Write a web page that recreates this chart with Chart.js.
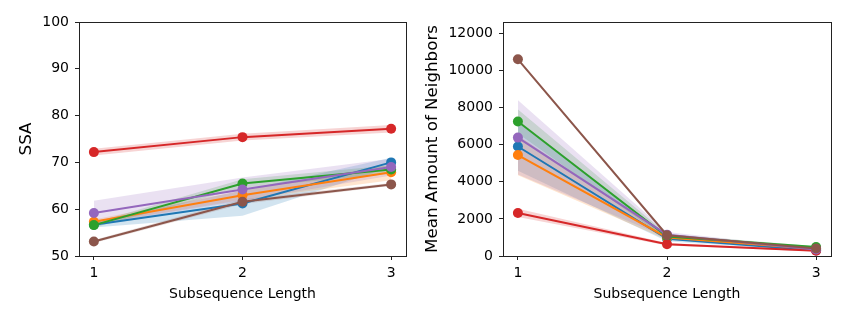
<!DOCTYPE html>
<html>
<head>
<meta charset="utf-8">
<script src="https://cdn.jsdelivr.net/npm/chart.js@4.4.0/dist/chart.umd.min.js"></script>
<style>
  body { margin: 0; background: #fff; }
  canvas { position: absolute; top: 0; }
  #ssa { left: 0; }
  #nbr { left: 420px; }
</style>
</head>
<body>
<canvas id="ssa" width="423" height="318"></canvas>
<canvas id="nbr" width="427" height="318"></canvas>
<script>
// subsequence lengths on x
const lengths = [1, 2, 3];

// series names (tab10 order)
const seriesNames = ['blue', 'orange', 'green', 'red', 'purple', 'brown'];
const seriesColors = ['#1f77b4', '#ff7f0e', '#2ca02c', '#d62728', '#9467bd', '#8c564b'];

// SSA - mean, lower and upper band
const ssaBlue = [56.7, 61.2, 70.0];
const ssaBlueLo = [56.1, 58.6, 69.0];
const ssaBlueHi = [57.3, 64.0, 71.0];
const ssaOrange = [57.3, 63.0, 67.9];
const ssaOrangeLo = [56.8, 62.0, 66.2];
const ssaOrangeHi = [57.8, 64.0, 69.5];
const ssaGreen = [56.6, 65.5, 68.5];
const ssaGreenLo = [56.1, 64.6, 67.6];
const ssaGreenHi = [57.1, 66.4, 69.4];
const ssaRed = [72.2, 75.4, 77.2];
const ssaRedLo = [71.5, 74.7, 76.4];
const ssaRedHi = [72.9, 76.1, 78.0];
const ssaPurple = [59.2, 64.2, 69.0];
const ssaPurpleLo = [56.6, 61.8, 67.2];
const ssaPurpleHi = [61.8, 66.8, 70.8];
const ssaBrown = [53.1, 61.6, 65.3];
const ssaBrownLo = [52.8, 61.1, 65.0];
const ssaBrownHi = [53.4, 62.1, 65.6];

// Mean amount of neighbors - mean, lower and upper band
const nbrBlue = [5900, 930, 300];
const nbrBlueLo = [4600, 800, 250];
const nbrBlueHi = [7200, 1060, 350];
const nbrOrange = [5440, 1000, 380];
const nbrOrangeLo = [4350, 870, 330];
const nbrOrangeHi = [6500, 1130, 430];
const nbrGreen = [7250, 1050, 480];
const nbrGreenLo = [6600, 920, 430];
const nbrGreenHi = [7900, 1180, 530];
const nbrRed = [2320, 630, 280];
const nbrRedLo = [2100, 560, 240];
const nbrRedHi = [2550, 700, 320];
const nbrPurple = [6380, 1150, 350];
const nbrPurpleLo = [4400, 1000, 300];
const nbrPurpleHi = [8400, 1300, 400];
const nbrBrown = [10600, 1120, 410];
const nbrBrownLo = [10600, 1080, 390];
const nbrBrownHi = [10600, 1160, 430];

const ssaTicks = [50, 60, 70, 80, 90, 100];
const nbrTicks = [0, 2000, 4000, 6000, 8000, 10000, 12000];

const ssaSeries = [
  [ssaBlue, ssaBlueLo, ssaBlueHi],
  [ssaOrange, ssaOrangeLo, ssaOrangeHi],
  [ssaGreen, ssaGreenLo, ssaGreenHi],
  [ssaRed, ssaRedLo, ssaRedHi],
  [ssaPurple, ssaPurpleLo, ssaPurpleHi],
  [ssaBrown, ssaBrownLo, ssaBrownHi]
];
const nbrSeries = [
  [nbrBlue, nbrBlueLo, nbrBlueHi],
  [nbrOrange, nbrOrangeLo, nbrOrangeHi],
  [nbrGreen, nbrGreenLo, nbrGreenHi],
  [nbrRed, nbrRedLo, nbrRedHi],
  [nbrPurple, nbrPurpleLo, nbrPurpleHi],
  [nbrBrown, nbrBrownLo, nbrBrownHi]
];

Chart.defaults.font.family = 'DejaVu Sans';
Chart.defaults.font.size = 14;
Chart.defaults.color = '#000';

function pts(vals) {
  return lengths.map((x, i) => ({ x: x, y: vals[i] }));
}

function hexA(hex, a) {
  const n = parseInt(hex.slice(1), 16);
  return `rgba(${(n >> 16) & 255}, ${(n >> 8) & 255}, ${n & 255}, ${a})`;
}

function buildDatasets(series) {
  const sets = [];
  series.forEach((s, i) => {
    const col = seriesColors[i];
    // lower edge of the band
    sets.push({
      label: seriesNames[i] + ' lo',
      data: pts(s[1]),
      borderWidth: 0,
      pointRadius: 0,
      fill: false,
      order: 50 - i * 2
    });
    // upper edge, filled down to lower
    sets.push({
      label: seriesNames[i] + ' hi',
      data: pts(s[2]),
      borderWidth: 0,
      pointRadius: 0,
      backgroundColor: hexA(col, 0.2),
      fill: sets.length - 1,
      order: 49 - i * 2
    });
  });
  series.forEach((s, i) => {
    const col = seriesColors[i];
    sets.push({
      label: seriesNames[i],
      data: pts(s[0]),
      borderColor: col,
      backgroundColor: col,
      borderWidth: 2,
      pointRadius: 5,
      pointBorderWidth: 0,
      fill: false,
      order: 10 - i
    });
  });
  return sets;
}

const frame = {
  id: 'frame',
  afterDraw(chart) {
    const a = chart.chartArea;
    const c = chart.ctx;
    c.save();
    c.strokeStyle = '#222';
    c.lineWidth = 1;
    c.strokeRect(Math.round(a.left) + 0.5, Math.round(a.top) + 0.5,
      Math.round(a.right - a.left), Math.round(a.bottom - a.top));
    c.restore();
  }
};

function makeChart(id, series, yMin, yMax, yTicks, yTitle, yWidth, padRight, titlePad) {
  return new Chart(document.getElementById(id), {
    type: 'line',
    data: { datasets: buildDatasets(series) },
    options: {
      responsive: false,
      animation: false,
      layout: { padding: { left: 0, right: padRight, top: 22, bottom: 15 } },
      plugins: { legend: { display: false }, tooltip: { enabled: false } },
      scales: {
        x: {
          type: 'linear',
          min: 0.9,
          max: 3.1,
          afterBuildTicks: s => { s.ticks = lengths.map(v => ({ value: v })); },
          afterFit: s => { s.height = 47; },
          ticks: { padding: 5, callback: v => String(v) },
          grid: { drawOnChartArea: false, drawTicks: true, tickLength: 4, color: '#222' },
          border: { color: '#222' },
          title: { display: true, text: 'Subsequence Length', padding: { top: 2, bottom: 0 } }
        },
        y: {
          min: yMin,
          max: yMax,
          afterBuildTicks: s => { s.ticks = yTicks.map(v => ({ value: v })); },
          afterFit: s => { s.width = yWidth; },
          ticks: { padding: 6, callback: v => String(v) },
          grid: { drawOnChartArea: false, drawTicks: true, tickLength: 4, color: '#222' },
          border: { color: '#222' },
          title: { display: true, text: yTitle, font: { size: 16.7 }, padding: { top: titlePad, bottom: 4 } }
        }
      }
    },
    plugins: [frame]
  });
}

makeChart('ssa', ssaSeries, 50, 100, ssaTicks, 'SSA', 79, 17, 17);
makeChart('nbr', nbrSeries, 0, 12610, nbrTicks, 'Mean Amount of Neighbors', 83, 16, 3);
</script>
</body>
</html>
